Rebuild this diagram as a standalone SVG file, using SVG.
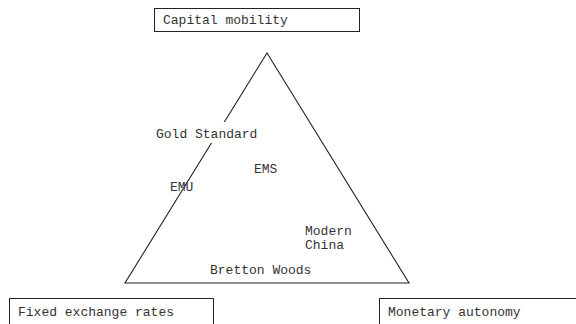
<svg xmlns="http://www.w3.org/2000/svg" width="576" height="324" viewBox="0 0 576 324">
<style>
text{font-family:"Liberation Mono","Courier New",monospace;font-size:13px;fill:#333}
.box{fill:#fff;stroke:#222;stroke-width:1}
.edge{fill:none;stroke:#222;stroke-width:1.1}
</style>
<rect width="576" height="324" fill="#fff"/>
<g id="connectors">
<polygon class="edge" points="267,53 125,283 409,283"/>
</g>
<g id="capital-mobility">
<rect class="box" x="154.5" y="8.5" width="205" height="23"/>
<text x="163" y="24">Capital mobility</text>
</g>
<g id="fixed-exchange-rates">
<rect class="box" x="9.5" y="298.5" width="204" height="30"/>
<text x="18" y="316">Fixed exchange rates</text>
</g>
<g id="monetary-autonomy">
<rect class="box" x="379.5" y="298.5" width="210" height="30"/>
<text x="388" y="316">Monetary autonomy</text>
</g>
<g id="gold-standard">
<rect x="153" y="122" width="108" height="21" fill="#fff"/>
<text x="156" y="138">Gold Standard</text>
</g>
<g id="ems"><text x="254" y="173">EMS</text></g>
<g id="emu"><text x="170" y="191">EMU</text></g>
<g id="modern-china">
<text x="305" y="235">Modern</text>
<text x="305" y="249">China</text>
</g>
<g id="bretton-woods"><text x="210" y="274">Bretton Woods</text></g>
</svg>
